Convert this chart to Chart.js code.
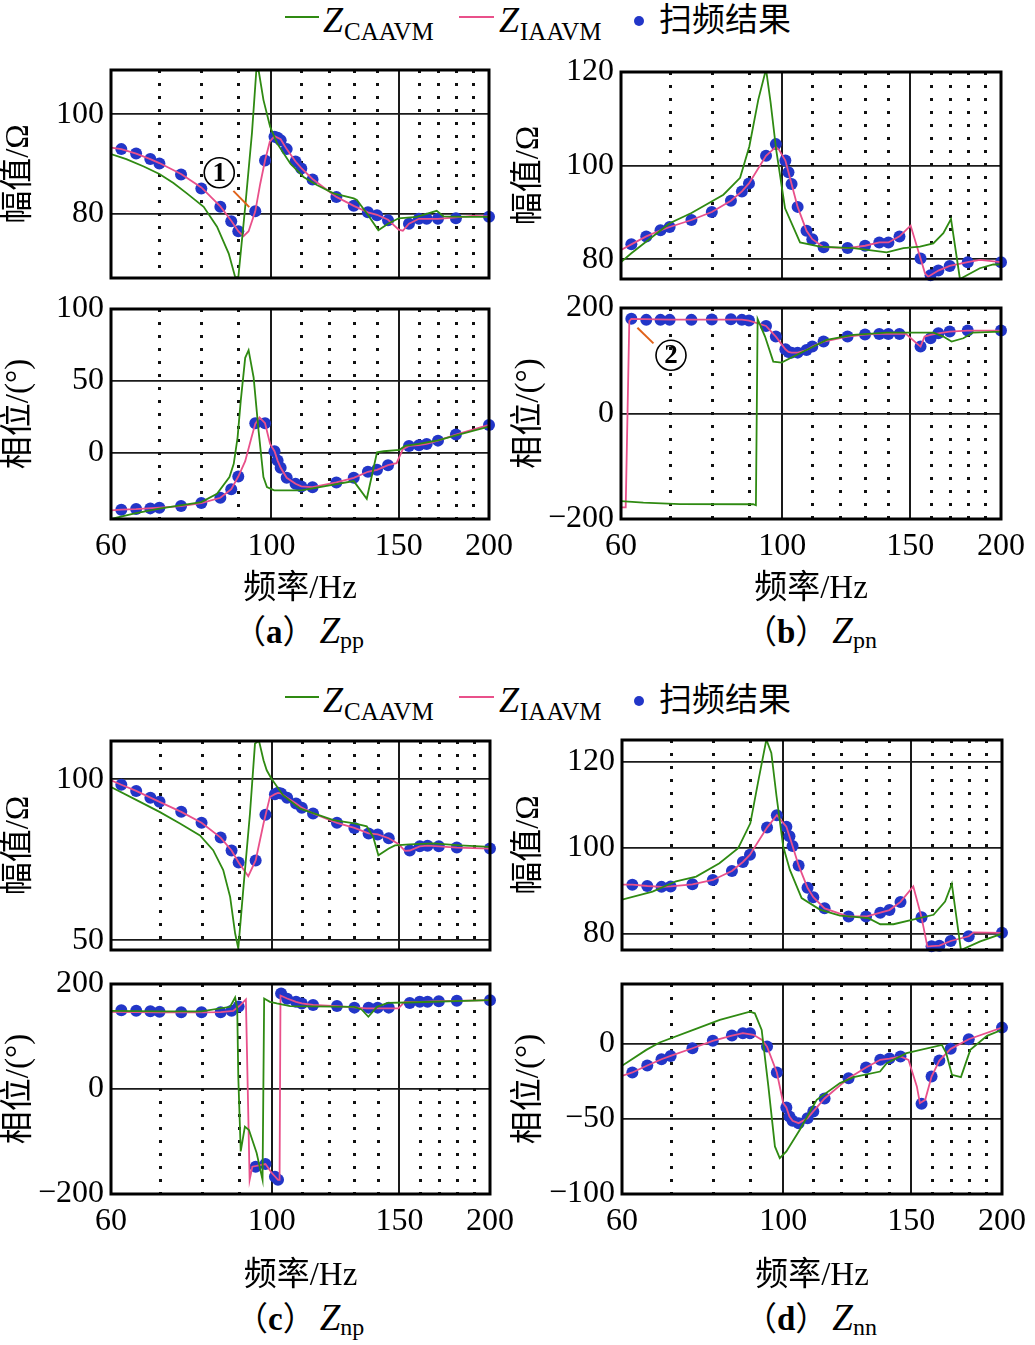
<!DOCTYPE html>
<html>
<head>
<meta charset="utf-8">
<script src="https://cdn.jsdelivr.net/npm/chart.js@4.4.1/dist/chart.umd.min.js"></script>
<style>
html, body { margin: 0; padding: 0; background: #fff; overflow: hidden; }
#page { position: relative; width: 1035px; height: 1345px; }
canvas { position: absolute; }
.t { position: absolute; white-space: nowrap; color: #000; line-height: 1;
     font-family: "Liberation Serif", "Noto Sans CJK SC", serif; }
.zi { font-style: italic; }
.cjk { font-family: "Noto Sans CJK SC", sans-serif; }
.cap { font-size: 33px; }
.cap b { font-weight: bold; }
.cap .zi { font-size: 37px; margin-left: 4px; }
.cap .sub { font-size: 24px; position: relative; top: 5px; }
</style>
</head>
<body>
<div id="page">
  <!-- top legend -->
  <div class="t" style="left:285px;top:16px;width:34px;height:2px;background:#2f8a12"></div>
  <div class="t zi" style="left:323px;top:2px;font-size:36px">Z</div>
  <div class="t" style="left:344px;top:19px;font-size:25px">CAAVM</div>
  <div class="t" style="left:459px;top:16px;width:35px;height:2px;background:#e9508a"></div>
  <div class="t zi" style="left:499px;top:2px;font-size:36px">Z</div>
  <div class="t" style="left:520px;top:19px;font-size:25px">IAAVM</div>
  <div class="t" style="left:634px;top:16px;width:10px;height:10px;border-radius:50%;background:#2236c8"></div>
  <div class="t cjk" style="left:659px;top:1px;font-size:33px">扫频结果</div>

  <!-- middle legend -->
  <div class="t" style="left:285px;top:696px;width:34px;height:2px;background:#2f8a12"></div>
  <div class="t zi" style="left:323px;top:682px;font-size:36px">Z</div>
  <div class="t" style="left:344px;top:699px;font-size:25px">CAAVM</div>
  <div class="t" style="left:459px;top:696px;width:35px;height:2px;background:#e9508a"></div>
  <div class="t zi" style="left:499px;top:682px;font-size:36px">Z</div>
  <div class="t" style="left:520px;top:699px;font-size:25px">IAAVM</div>
  <div class="t" style="left:634px;top:696px;width:10px;height:10px;border-radius:50%;background:#2236c8"></div>
  <div class="t cjk" style="left:659px;top:681px;font-size:33px">扫频结果</div>

  <!-- captions -->
  <div class="t cap" style="left:233px;top:612px">（<b>a</b>）<span class="zi">Z</span><span class="sub">pp</span></div>
  <div class="t cap" style="left:744px;top:612px">（<b>b</b>）<span class="zi">Z</span><span class="sub">pn</span></div>
  <div class="t cap" style="left:235px;top:1299px">（<b>c</b>）<span class="zi">Z</span><span class="sub">np</span></div>
  <div class="t cap" style="left:744px;top:1299px">（<b>d</b>）<span class="zi">Z</span><span class="sub">nn</span></div>
</div>

<script>
// frequency axis
const xTickHz = [60, 100, 150, 200];
const solidHz = [100, 150];
const dottedHz = [70, 80, 90, 110, 120, 130, 140, 160, 170, 180, 190];

// sweep frequencies (scan points)
const scanHz = [62, 65, 68, 70, 75, 80, 85, 88, 90, 95, 98, 101, 102, 103, 105, 108, 110, 114,
                123, 130, 136, 140, 145, 155, 160, 164, 170, 180, 200];

// y tick labels
const aMagTicks = [80, 100];
const aPhaseTicks = [0, 50, 100];
const bMagTicks = [80, 100, 120];
const bPhaseTicks = [-200, 0, 200];
const cMagTicks = [50, 100];
const cPhaseTicks = [-200, 0, 200];
const dMagTicks = [80, 100, 120];
const dPhaseTicks = [-100, -50, 0];

// (a) Zpp
const aMagScan = [93.0, 92.1, 91.0, 90.1, 87.9, 85.1, 81.4, 78.5, 76.5, 80.5, 90.7, 95.5, 95.3, 94.8, 93.0,
                  90.5, 89.1, 86.9, 83.4, 81.6, 80.3, 79.7, 78.7, 78.0, 79.0, 79.0, 79.0, 79.1, 79.4];
const aMagIaavm = [[60,93.3],[62,93],[65,92.1],[68,91],[70,90.2],[75,88],[80,85.3],[85,81.5],[88,78.6],[90,76.5],
                   [91.5,75.5],[93,76.5],[95,80.5],[96.5,86],[98,90.7],[99.5,94.5],[101,95.6],[103,95],[105,93],
                   [108,90.5],[110,89.2],[114,87],[123,83.4],[130,81.6],[136,80.3],[140,79.8],[145,78.8],[150,76.8],
                   [152,76.6],[155,78],[160,79],[170,79],[180,79.3],[190,79.6],[200,79.5]];
const aMagCaavm = [[60,92],[63,91],[66.6,89.5],[70,88],[73.2,86.2],[76.4,84.1],[80.6,81.4],[84.1,77.4],[87.3,72],
                   [89.1,67.3],[90,67.2],[92,81.4],[94,96.2],[95.3,108.6],[96,108.9],[97.5,102.9],[99.6,97.5],
                   [101.8,94.2],[106.2,90.1],[110.8,87.4],[115.6,85.8],[121.9,84.1],[130,83.1],[131.3,82.8],
                   [135.5,80.1],[140.6,76.7],[145,78],[150,79.1],[158.9,79.4],[169.3,80.6],[173,79.5],[186.3,79.4],[200,79.4]];
const aPhaseScan = [-39.8, -39.4, -38.9, -38.4, -37.3, -35.2, -31.5, -25.5, -16.7, 20.4, 20.4, 0.9, -5.6, -10.6,
                    -17.6, -21.8, -23.6, -24.1, -20.8, -17.6, -13.4, -12.0, -8.8, 4.6, 5.1, 6.0, 8.3, 12.5, 19.2];
const aPhaseIaavm = [[60,-40.3],[62,-39.8],[65,-39.4],[70,-38.4],[75,-37.3],[80,-35.2],[85,-31.5],[88,-25.5],[90,-16.7],
                     [92,-6],[93.8,10],[95,20],[96.3,24.5],[98,20.4],[99.6,6],[101,0.9],[102,-5.6],[103,-10.6],[105,-17.6],
                     [108,-21.8],[110,-23.6],[114,-24.1],[123,-20.8],[130,-17.6],[136,-13.4],[140,-12],[145,-8.8],
                     [149,-7.4],[152,2.3],[155,4.6],[160,5.1],[164,6],[170,8.3],[180,12.5],[200,19.2]];
const aPhaseCaavm = [[60,-46.3],[64.5,-42.6],[70,-39.1],[80,-34.5],[84.1,-28.7],[87.5,-17.1],[88.7,-7.9],[89.8,10.6],
                     [90.7,36],[92,66],[93,71.3],[94.5,52.3],[96,15.3],[97.5,-17.1],[98.6,-24.1],[100.9,-26.4],[110,-26.4],
                     [130,-19.9],[135.5,-32.2],[140,0.2],[143,0.9],[150.5,1.9],[153,4.6],[160,6],[170,8.5],[180,12],[200,18.1]];

// (b) Zpn
const bMagScan = [83.2, 84.9, 86.2, 86.9, 88.4, 90.1, 92.5, 94.5, 96.2, 102.1, 104.6, 101.1, 98.6, 96.1, 91.2,
                  86.1, 84.3, 82.6, 82.4, 82.9, 83.6, 83.6, 84.9, 80.2, 76.6, 77.6, 78.6, 79.4, 79.4];
const bMagIaavm = [[60,82],[62,83.2],[65,84.9],[68,86.2],[70,86.9],[75,88.4],[80,90.1],[85,92.5],[88,94.5],[90,96.2],
                   [95,102.1],[98,104],[99,103.4],[101,101.1],[102,98.6],[103,96.1],[105,91.2],[108,86.1],[110,84.3],
                   [114,82.6],[123,82.4],[130,82.9],[136,83.6],[140,83.6],[145,84.9],[150.2,87.2],[155,80.2],[157.2,77],
                   [158.8,76.3],[160,76.6],[164,77.6],[170,78.6],[180,79.4],[187,79.9],[200,79.4]];
const bMagCaavm = [[60,79.4],[62,81.3],[70,87.7],[75,89.9],[83,93.8],[87.5,97.4],[90.1,104.1],[92.7,114.1],[95,120.6],
                   [96.4,113.4],[98.1,103.4],[100.9,90.9],[105.8,83.6],[112.7,82.7],[125.3,82.4],[131,82],[139.2,81.5],
                   [146.8,82.4],[154.7,82.7],[161.4,83.4],[166.6,85.6],[170.7,88.6],[175.6,75.8],[187,78.1],[195.2,78.9],[200,78.9]];
const bPhaseScan = [179.4, 177.5, 177.5, 177.5, 177.5, 178, 178.8, 177.5, 176.2, 166, 145.8, 121.7, 116.6, 115.4,
                    115.4, 120.4, 126.8, 136.3, 145.8, 149.6, 150.9, 150.9, 150.9, 126.8, 142.6, 152.1, 155.3, 157.2, 157.2];
const bPhaseIaavm = [[60,-178],[60.9,-178],[61.6,175],[62,179.4],[70,178],[80,178],[88,178],[90,176.2],[95,166],[98,145.8],
                     [101,121.7],[102,116.6],[103,115.4],[105,115.4],[108,120.4],[110,126.8],[114,136.3],[123,145.8],
                     [130,149.6],[136,150.9],[145,150.9],[148,151],[153.1,133],[155,126.8],[157,145.8],[160,149],
                     [164,152.1],[170,155.3],[180,157.2],[200,157.2]];
const bPhaseCaavm = [[60,-166],[64.4,-169],[72.3,-171.8],[91.2,-172],[92,-174],[92.5,178.8],[94.7,145.8],[97.2,98.3],
                     [99.8,96.4],[102.5,104.6],[108,120.4],[115.1,139.5],[125.3,149],[139.2,153.4],[161.4,153.4],
                     [166.6,145.8],[171,136.3],[177.5,142.6],[183,153.4],[200,155.3]];

// (c) Znp
const cMagScan = [98.3, 96.4, 94.3, 93.0, 89.9, 86.5, 81.9, 77.9, 74.2, 74.8, 89.0, 95.4, 95.8, 95.6, 94.3,
                  92.5, 91.2, 89.4, 86.5, 84.9, 83.2, 82.9, 81.7, 77.9, 79.2, 79.4, 79.2, 78.8, 78.5];
const cMagIaavm = [[60,99.7],[62,98.3],[65,96.4],[68,94.3],[70,93],[75,89.9],[80,86.5],[85,81.9],[88,77.9],[90,74.2],
                   [92.8,69.9],[95,74.8],[97.4,86.3],[99.4,94.5],[101,95.4],[102,95.8],[103,95.6],[105,94.3],[108,92.5],
                   [110,91.2],[114,89.4],[123,86.5],[130,84.9],[136,83.2],[140,82.9],[145,81.7],[149.5,79.9],[152.7,77.8],
                   [155,77.9],[160,79.2],[164,79.4],[170,79.2],[180,78.8],[200,78.5]];
const cMagCaavm = [[60,97.6],[65.8,93],[70,89.9],[74.7,86.3],[79.6,82.6],[83,78],[85.7,71.8],[87.6,63.5],[89,52.2],
                   [89.9,47.5],[91.4,66.6],[93.3,89.4],[94.8,111.1],[96,112],[97.4,105.9],[98.4,102.8],[99.9,100.2],
                   [103.7,95],[109.4,90.9],[121.6,87.3],[130,86.3],[135.2,85.4],[138,82.1],[140.3,76.4],[145,78.5],
                   [147.9,79.5],[155,79.8],[167,80.1],[181.8,79.5],[200,79]];
const cPhaseScan = [150, 149, 148, 147, 146, 146, 146, 149, 157, -148, -143, -167, -173, 182, 172, 166, 163, 160,
                    158, 155, 155, 155, 155, 164, 166, 166, 167, 168, 169];
const cPhaseIaavm = [[60,147],[70,146],[80,145.8],[85,146.4],[88.5,149],[90.5,159.7],[92.1,170.5],[93.2,-173],[94,-148],
                     [98,-143],[100,-160],[102,-173],[102.5,-173],[102.8,178],[105,172.4],[108,166],[110,163],[114,160],
                     [123,157.8],[130,155.3],[135,153.4],[149.5,153.4],[152.5,166],[160,166],[170,167.4],[180,168],[200,169.3]];
const cPhaseCaavm = [[60,149],[70,148],[80,148],[87.6,156.6],[89,174.3],[89.6,153.4],[89.9,23.5],[90.6,-119],[91.8,-71.6],
                     [93,-78],[95.3,-122],[97.1,-173],[97.6,172.4],[99.4,166],[101.6,163],[106,157.8],[130,156.6],
                     [133,151.5],[135.9,137.6],[139.7,156.6],[144.6,164.2],[153.6,164.8],[200,169.3]];

// (d) Znn
const dMagScan = [91.4, 91.1, 90.9, 91.0, 91.5, 92.5, 94.6, 96.7, 98.4, 104.7, 107.6, 104.9, 102.7, 100.4, 95.9,
                  90.7, 88.5, 85.9, 84.0, 84.0, 84.9, 85.5, 87.4, 83.8, 77.1, 77.2, 78.3, 79.4, 80.2];
const dMagIaavm = [[60,91.4],[62,91.4],[65,91.1],[68,90.9],[70,91],[75,91.5],[80,92.5],[85,94.6],[88,96.7],[90,98.4],
                   [95,104.7],[98,107.6],[101,104.9],[102,102.7],[103,100.4],[105,95.9],[108,90.7],[110,88.5],[114,85.9],
                   [123,84],[130,84],[136,84.9],[140,85.5],[145,87.4],[151,91],[155,83.8],[157.9,77],[160,77.1],
                   [164,77.2],[170,78.3],[180,79.4],[182.8,80.3],[200,80.2]];
const dMagCaavm = [[60,87.9],[66.1,89.8],[71.2,92.2],[75.9,93.3],[81.7,96.4],[86.7,99.9],[90.1,105.7],[92.3,115.1],
                   [94.8,125.2],[96.3,122.1],[97.9,112],[100,100.3],[102.1,94.9],[106,88.3],[112.3,85.6],[119.7,84.2],
                   [131,83.6],[136,82.2],[141.8,82.2],[150.3,83.2],[161,84.4],[167,87.5],[170.6,91.6],[175.6,76.2],
                   [186.7,78.2],[200,80]];
const dPhaseScan = [-19.2, -14.6, -10.4, -8.2, -3.1, 1.8, 5.3, 6.9, 6.9, -2.0, -19.2, -42.5, -48.5, -51.3, -52.9,
                    -49.6, -45.1, -36.5, -23.0, -15.9, -10.8, -10.0, -8.6, -40.0, -21.9, -11.3, -3.5, 2.9, 10.6];
const dPhaseIaavm = [[60,-21.5],[62,-19.2],[65,-14.6],[68,-10.4],[70,-8.2],[75,-3.1],[80,1.8],[85,5.3],[88,6.9],[91,5.8],
                     [93.5,2.4],[95,-2],[98,-19.2],[100,-39.6],[101,-42.5],[102,-48.5],[103,-51.3],[105,-52.9],[108,-49.6],
                     [110,-45.1],[114,-36.5],[123,-23],[130,-15.9],[136,-10.8],[140,-10],[145,-8.6],[148.7,-10.8],
                     [152.7,-28.5],[154.2,-39.6],[156.8,-37.4],[160,-21.9],[164,-11.3],[170,-3.5],[180,2.9],[200,10.6]];
const dPhaseCaavm = [[60,-14.8],[64.8,-4.2],[67.6,0.7],[75.2,9.1],[81.8,15.7],[90,21.2],[91.4,20.1],[93.4,9.1],
                     [95.4,-28.5],[97.4,-68.4],[98.9,-76.1],[101,-71.7],[105.4,-57.3],[111.2,-37.4],[119.7,-26.3],
                     [125,-22.3],[135.9,-18.6],[138.8,-13.1],[147.8,-6.4],[165.3,-0.9],[167.6,-6.4],[170.7,-20.8],
                     [175.6,-22.3],[180.9,-4.2],[190.7,5.1],[200,9.1]];

const GREEN = '#2f8a12';
const PINK = '#e9508a';
const BLUE = '#2236c8';
const ORANGE = '#e0621a';
const SERIF = '"Liberation Serif", "Noto Sans CJK SC", serif';

const MAG = '幅值/Ω';
const PHASE = '相位/(°)';

// canvas rect [x, y, w, h], plot box [left, top, right, bottom]
const panels = [
  { rect: [0, 40, 530, 270], box: [111, 70, 489, 278], range: [67.1, 108.9], ticks: aMagTicks, title: MAG,
    scan: aMagScan, iaavm: aMagIaavm, caavm: aMagCaavm,
    note: { at: [84.7, 88.25], text: '1', from: [88.6, 84.6], to: [93.2, 81.35] } },
  { rect: [0, 279, 530, 336], box: [111, 309, 489, 519], range: [-46.3, 100], ticks: aPhaseTicks, title: PHASE,
    scan: aPhaseScan, iaavm: aPhaseIaavm, caavm: aPhaseCaavm, xLabels: true, titlePad: 6 },
  { rect: [510, 42, 540, 270], box: [621, 72, 1001, 279], range: [75.8, 120], ticks: bMagTicks, title: MAG,
    scan: bMagScan, iaavm: bMagIaavm, caavm: bMagCaavm },
  { rect: [510, 278, 540, 337], box: [621, 308, 1001, 519], range: [-200, 200], ticks: bPhaseTicks, title: PHASE,
    scan: bPhaseScan, iaavm: bPhaseIaavm, caavm: bPhaseCaavm, xLabels: true, titlePad: 6,
    note: { at: [70.3, 110.3], text: '2', from: [63.2, 162.7], to: [66.5, 133] } },
  { rect: [0, 711, 530, 272], box: [111, 741, 490, 950], range: [47, 111.9], ticks: cMagTicks, title: MAG,
    scan: cMagScan, iaavm: cMagIaavm, caavm: cMagCaavm },
  { rect: [0, 954, 530, 346], box: [111, 984, 490, 1194], range: [-200, 200], ticks: cPhaseTicks, title: PHASE,
    scan: cPhaseScan, iaavm: cPhaseIaavm, caavm: cPhaseCaavm, xLabels: true, titlePad: 4 },
  { rect: [510, 710, 540, 273], box: [622, 740, 1002, 950], range: [76.2, 125.1], ticks: dMagTicks, title: MAG,
    scan: dMagScan, iaavm: dMagIaavm, caavm: dMagCaavm },
  { rect: [510, 954, 540, 346], box: [622, 984, 1002, 1194], range: [-100, 39.6], ticks: dPhaseTicks, title: PHASE,
    scan: dPhaseScan, iaavm: dPhaseIaavm, caavm: dPhaseCaavm, xLabels: true, titlePad: 4 }
];

// grid, frame and circled-number notes
const deco = {
  id: 'deco',
  beforeDatasetsDraw(chart) {
    const { ctx, chartArea: a } = chart;
    const x = chart.scales.x;
    ctx.save();
    ctx.strokeStyle = '#1a1a1a';
    ctx.lineWidth = 2;
    ctx.beginPath();
    solidHz.forEach(f => {
      const p = Math.round(x.getPixelForValue(f));
      ctx.moveTo(p, a.top);
      ctx.lineTo(p, a.bottom);
    });
    ctx.stroke();
    ctx.strokeStyle = '#111';
    ctx.lineWidth = 3;
    ctx.setLineDash([3, 10]);
    ctx.beginPath();
    dottedHz.forEach(f => {
      const p = Math.round(x.getPixelForValue(f)) + 0.5;
      ctx.moveTo(p, a.top);
      ctx.lineTo(p, a.bottom);
    });
    ctx.stroke();
    ctx.restore();
  },
  afterDatasetsDraw(chart, args, opts) {
    const { ctx, chartArea: a } = chart;
    const x = chart.scales.x, y = chart.scales.y;
    ctx.save();
    ctx.strokeStyle = '#000';
    ctx.lineWidth = 3;
    ctx.strokeRect(a.left, a.top, a.right - a.left, a.bottom - a.top);
    const n = opts.note;
    if (n) {
      const pt = p => [x.getPixelForValue(p[0]), y.getPixelForValue(p[1])];
      const [cx, cy] = pt(n.at);
      ctx.lineWidth = 1.6;
      ctx.beginPath();
      ctx.arc(cx, cy, 15, 0, Math.PI * 2);
      ctx.stroke();
      ctx.fillStyle = '#000';
      ctx.font = 'bold 27px "Liberation Serif"';
      ctx.textAlign = 'center';
      ctx.textBaseline = 'middle';
      ctx.fillText(n.text, cx, cy + 1);
      const [x1, y1] = pt(n.from), [x2, y2] = pt(n.to);
      ctx.strokeStyle = ORANGE;
      ctx.lineWidth = 2;
      ctx.beginPath();
      ctx.moveTo(x1, y1);
      ctx.lineTo(x2, y2);
      ctx.stroke();
    }
    ctx.restore();
  }
};

const toPts = arr => arr.map(([x, y]) => ({ x, y }));
const fmt = v => (v < 0 ? '\u2212' + (-v) : String(v));
const page = document.getElementById('page');

panels.forEach(p => {
  const [cx, cy, cw, ch] = p.rect;
  const [L, T, R, B] = p.box;
  const cv = document.createElement('canvas');
  cv.width = cw;
  cv.height = ch;
  cv.style.left = cx + 'px';
  cv.style.top = cy + 'px';
  page.appendChild(cv);

  new Chart(cv, {
    type: 'line',
    data: {
      datasets: [
        { data: toPts(p.caavm), borderColor: GREEN, borderWidth: 1.8, pointRadius: 0, tension: 0 },
        { data: toPts(p.iaavm), borderColor: PINK, borderWidth: 1.8, pointRadius: 0, tension: 0 },
        { data: scanHz.map((f, i) => ({ x: f, y: p.scan[i] })), showLine: false, clip: false,
          pointRadius: 6, pointBackgroundColor: BLUE, pointBorderWidth: 0, borderColor: BLUE }
      ]
    },
    options: {
      responsive: false,
      animation: false,
      events: [],
      layout: { padding: { left: 0, top: T - cy, right: cx + cw - R, bottom: 0 } },
      plugins: { legend: { display: false }, tooltip: { enabled: false }, deco: { note: p.note || null } },
      scales: {
        x: {
          type: 'logarithmic', min: 60, max: 200,
          afterBuildTicks: s => { s.ticks = xTickHz.map(v => ({ value: v })); },
          afterFit: s => { s.height = cy + ch - B; },
          grid: { display: false },
          border: { display: false },
          ticks: { display: !!p.xLabels, autoSkip: false, maxRotation: 0, padding: 0, color: '#000',
                   font: { family: SERIF, size: 32 }, callback: v => String(v) },
          title: { display: !!p.xLabels, text: '频率/Hz', color: '#000',
                   font: { family: SERIF, size: 33 }, padding: { top: 0, bottom: p.titlePad || 0 } }
        },
        y: {
          min: p.range[0], max: p.range[1],
          afterBuildTicks: s => { s.ticks = p.ticks.map(v => ({ value: v })); },
          afterFit: s => { s.width = L - cx; },
          grid: { color: '#1a1a1a', lineWidth: 1.8, drawTicks: false },
          border: { display: false },
          ticks: { padding: 7, color: '#000', font: { family: SERIF, size: 32 }, callback: fmt },
          title: { display: true, text: p.title, color: '#000',
                   font: { family: SERIF, size: 33 }, padding: { top: 0, bottom: 0 } }
        }
      }
    },
    plugins: [deco]
  });
});
</script>
</body>
</html>
